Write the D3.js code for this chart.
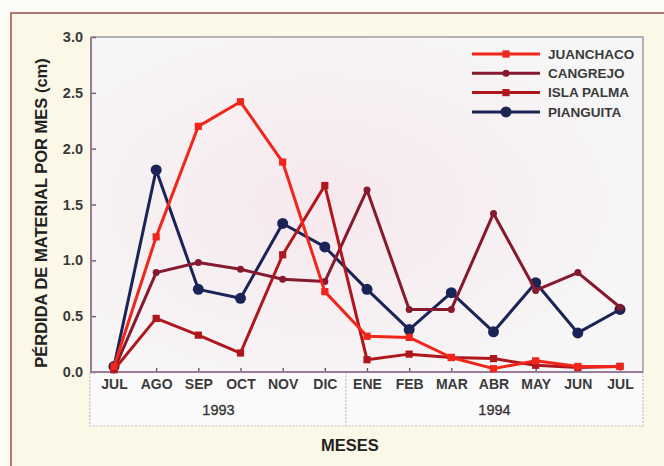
<!DOCTYPE html>
<html><head><meta charset="utf-8">
<script src="https://cdn.jsdelivr.net/npm/d3@7/dist/d3.min.js"></script>
<style>body{margin:0;background:#fdfcf6;}svg{display:block;}</style>
</head><body><div id="chart"></div>
<script>
const monthKeys = ["JUL93","AGO","SEP","OCT","NOV","DIC","ENE","FEB","MAR","ABR","MAY","JUN","JUL94"];
const monthLabels = ["JUL","AGO","SEP","OCT","NOV","DIC","ENE","FEB","MAR","ABR","MAY","JUN","JUL"];
const years = [{label:"1993", from:0, to:5},{label:"1994", from:6, to:12}];
const yTicks = [0,0.5,1.0,1.5,2.0,2.5,3.0];

const juanchaco = [0.05,1.21,2.20,2.42,1.88,0.72,0.32,0.31,0.13,0.03,0.10,0.05,0.05];
const cangrejo  = [0.02,0.89,0.98,0.92,0.83,0.81,1.63,0.56,0.56,1.42,0.73,0.89,0.58];
const islaPalma = [0.02,0.48,0.33,0.17,1.05,1.67,0.11,0.16,0.13,0.12,0.06,0.04,0.05];
const pianguita = [0.05,1.81,0.74,0.66,1.33,1.12,0.74,0.38,0.71,0.36,0.80,0.35,0.56];

const series = [
  {name:"PIANGUITA", values:pianguita, color:"#1b2456", marker:"circle", r:5.5},
  {name:"CANGREJO", values:cangrejo, color:"#86192d", marker:"circle", r:3.5},
  {name:"ISLA PALMA", values:islaPalma, color:"#b0171d", marker:"square", r:3.6},
  {name:"JUANCHACO", values:juanchaco, color:"#f0261a", marker:"square", r:3.6}
];
const legendOrder = ["JUANCHACO","CANGREJO","ISLA PALMA","PIANGUITA"];

const W=664,H=466;
const svg=d3.select("#chart").append("svg").attr("width",W).attr("height",H);
const defs=svg.append("defs");
const rg=defs.append("radialGradient").attr("id","bg").attr("cx","42%").attr("cy","50%").attr("r","60%");
rg.append("stop").attr("offset","0%").attr("stop-color","#f6e8ee");
rg.append("stop").attr("offset","100%").attr("stop-color","#f7f6f6");

// outer frame
svg.append("rect").attr("x",11).attr("y",13).attr("width",W).attr("height",H)
  .attr("fill","#fbf8e7").attr("stroke","#b87673").attr("stroke-width",2);

const L=91,R=643,T=37,B=372;
const x=d3.scalePoint().domain(monthKeys).range([114,620]);
const y=d3.scaleLinear().domain([0,3]).range([B,T]);

svg.append("rect").attr("x",L).attr("y",T).attr("width",R-L).attr("height",B-T).attr("fill","url(#bg)");
// top & right border
svg.append("path").attr("d",`M${L},${T}H${R}V${B}`).attr("fill","none").attr("stroke","#9d9aa6").attr("stroke-width",1.5);

// x label box
const boxB=426;
svg.append("rect").attr("x",L-1).attr("y",B).attr("width",R-L+1).attr("height",boxB-B)
  .attr("fill","#fbfafa").attr("stroke","#c9b7c2").attr("stroke-width",1.2).attr("stroke-dasharray","2,1.5");
const divX=(x("DIC")+x("ENE"))/2;
svg.append("line").attr("x1",divX).attr("x2",divX).attr("y1",B).attr("y2",boxB)
  .attr("stroke","#c9b7c2").attr("stroke-width",1.2).attr("stroke-dasharray","2,1.5");

const font="'Liberation Sans', Arial, sans-serif";
// y axis
const yAxis=d3.axisLeft(y).tickValues(yTicks).tickFormat(d3.format(".1f")).tickSize(-5).tickPadding(8);
const gy=svg.append("g").attr("transform",`translate(${L},0)`).call(yAxis);
gy.select(".domain").remove();
gy.selectAll(".tick line").attr("stroke","#7c5f80").attr("stroke-width",1.5);
gy.selectAll(".tick text").attr("font-family",font).attr("font-size",14.5).attr("font-weight","bold").attr("fill","#3a3a3a");

// x axis
const xAxis=d3.axisBottom(x).tickFormat((d,i)=>monthLabels[i]).tickSize(-4).tickPadding(14);
const gx=svg.append("g").attr("transform",`translate(0,${B})`).call(xAxis);
gx.select(".domain").remove();
gx.selectAll(".tick line").attr("stroke","#555").attr("stroke-width",1.3);
gx.selectAll(".tick text").attr("font-family",font).attr("font-size",14).attr("font-weight","bold").attr("fill","#3a3a3a").attr("dy","0.2em");

// left and bottom border
svg.append("path").attr("d",`M${L},${T}V${B}H${R}`).attr("fill","none").attr("stroke","#9a7c98").attr("stroke-width",2);

years.forEach(yr=>{
  const cx = yr.from===0 ? (L+divX)/2 : (divX+R)/2;
  svg.append("text").attr("x",cx).attr("y",415).attr("text-anchor","middle")
    .attr("font-family",font).attr("font-size",14.5).attr("fill","#333").attr("stroke","#333").attr("stroke-width",0.3).text(yr.label);
});

svg.append("text").attr("x",350).attr("y",451).attr("text-anchor","middle")
  .attr("font-family",font).attr("font-size",16.5).attr("font-weight","bold").attr("fill","#222").text("MESES");
svg.append("text").attr("transform","translate(47,213) rotate(-90)").attr("text-anchor","middle")
  .attr("font-family",font).attr("font-size",16.5).attr("font-weight","bold").attr("fill","#222").text("PÉRDIDA DE MATERIAL POR MES (cm)");

const line=d3.line().x((d,i)=>x(monthKeys[i])).y(d=>y(d));
function drawMarker(g,s,cx,cy){
  if(s.marker==="circle") g.append("circle").attr("cx",cx).attr("cy",cy).attr("r",s.r).attr("fill",s.color);
  else g.append("rect").attr("x",cx-s.r).attr("y",cy-s.r).attr("width",2*s.r).attr("height",2*s.r).attr("fill",s.color);
}
series.forEach(s=>{
  const g=svg.append("g");
  g.append("path").datum(s.values).attr("d",line).attr("fill","none").attr("stroke",s.color).attr("stroke-width",3).attr("stroke-linejoin","round");
  s.values.forEach((v,i)=>drawMarker(g,s,x(monthKeys[i]),y(v)));
});

// legend
legendOrder.forEach((name,i)=>{
  const s=series.find(d=>d.name===name);
  const ly=54+i*19.3;
  const g=svg.append("g");
  g.append("line").attr("x1",472).attr("x2",540).attr("y1",ly).attr("y2",ly).attr("stroke",s.color).attr("stroke-width",3);
  drawMarker(g,s,506,ly);
  g.append("text").attr("x",548).attr("y",ly).attr("dy","0.36em").attr("font-family",font).attr("font-size",13.5)
    .attr("font-weight","bold").attr("fill","#3a3a3a").text(name);
});
</script></body></html>
